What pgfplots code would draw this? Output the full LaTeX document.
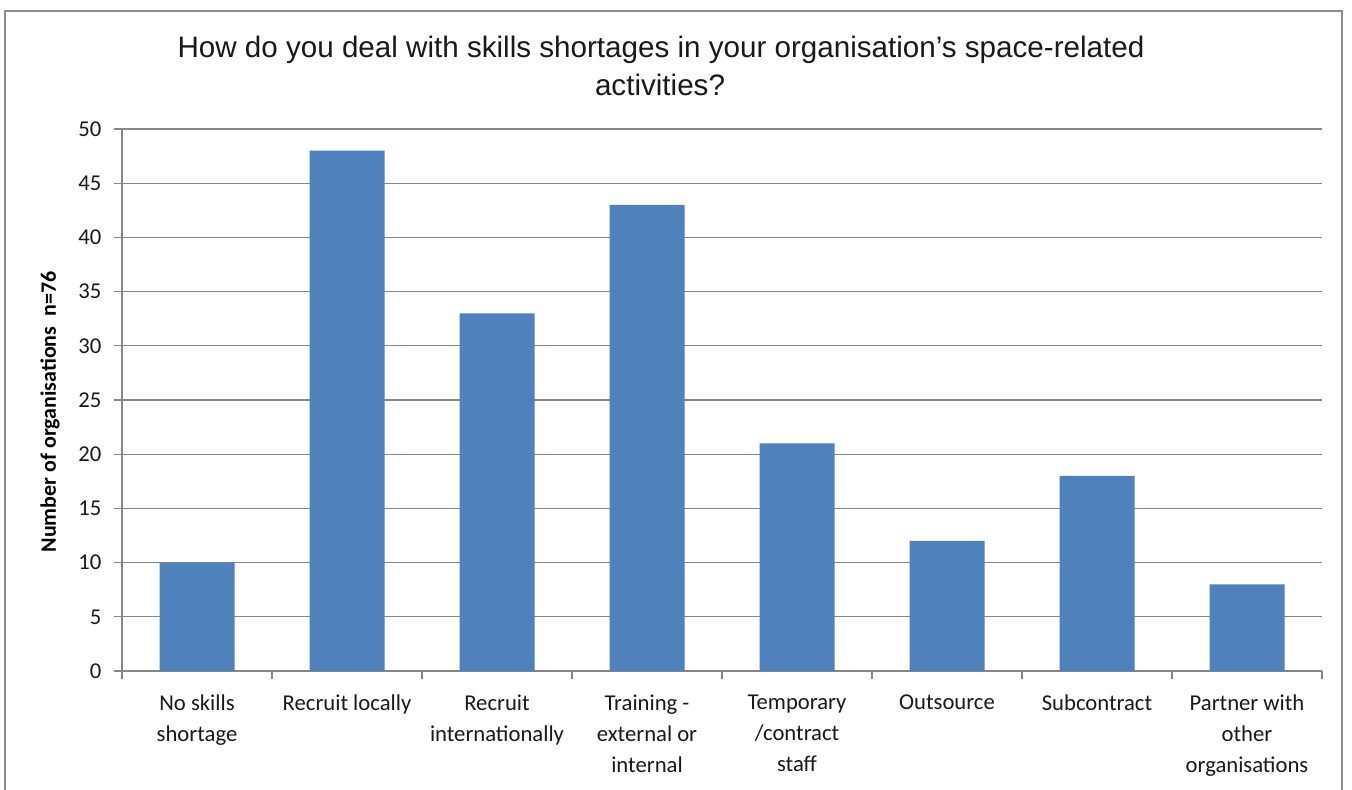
\documentclass[border=0pt]{standalone}
\usepackage{pgfplots}
\pgfplotsset{compat=1.18}
\usepackage{fontspec}
\setmainfont{Carlito}
\newfontfamily\arialfont{Liberation Sans}
\definecolor{barblue}{HTML}{4F81BD}
\definecolor{gridgray}{HTML}{868686}
\definecolor{framegray}{HTML}{8C8C8C}
\begin{document}
\begin{tikzpicture}[x=0.75pt,y=-0.75pt]
\useasboundingbox (0,0) rectangle (1352,789);
\fill[white] (0,0) rectangle (1352,789);
\draw[framegray,line width=1.1pt] (5,800) -- (5,11) -- (1342,11) -- (1342,800);
\node[font=\arialfont\fontsize{22.2}{26}\selectfont,align=center,text=black!90] at (661,50) {How do you deal with skills shortages in your organisation’s space-related};
\node[font=\arialfont\fontsize{22.2}{26}\selectfont,align=center,text=black!90] at (660,85) {activities?};
\begin{axis}[
  at={(91.5pt,-503.25pt)}, anchor=south west,
  scale only axis, width=900pt, height=406.5pt,
  xmin=-0.5, xmax=7.5, ymin=0, ymax=50,
  ytick={0,5,...,50},
  xtick={0,...,7},
  xticklabels={{No skills\\shortage},{Recruit locally},{Recruit\\internationally},{Training -\\external or\\internal},{Temporary\\/contract\\staff},{Outsource},{Subcontract},{Partner with\\other\\organisations}},
  minor xtick={-0.5,0.5,...,7.5},
  major x tick style={draw=none},
  minor x tick style={gridgray,line width=0.9pt},
  y tick style={gridgray,line width=0.9pt},
  tick align=outside,
  minor tick length=6pt, major tick length=6pt,
  axis x line*=bottom, axis y line*=left,
  axis line style={gridgray,line width=1pt,-},
  ymajorgrids, grid style={gridgray,line width=1pt},
  /pgf/number format/assume math mode=true,
  ticklabel style={font=\fontsize{17}{23.25}\selectfont, text=black!90},
  xticklabel style={align=center, anchor=north, yshift=-8.5pt},
  yticklabel style={xshift=-6pt},
  ylabel={\bfseries Number of organisations \ n=76},
  ylabel style={at={(axis description cs:-0.06,0.478)}, anchor=center, font=\fontsize{16.5}{18}\selectfont},
  clip=false,
]
\addplot[ybar, bar width=56.25pt, fill=barblue, draw=none, bar shift=0pt] coordinates {
(0,10) (1,48) (2,33) (3,43) (4,21) (5,12) (6,18) (7,8)};
\end{axis}
\end{tikzpicture}
\end{document}
